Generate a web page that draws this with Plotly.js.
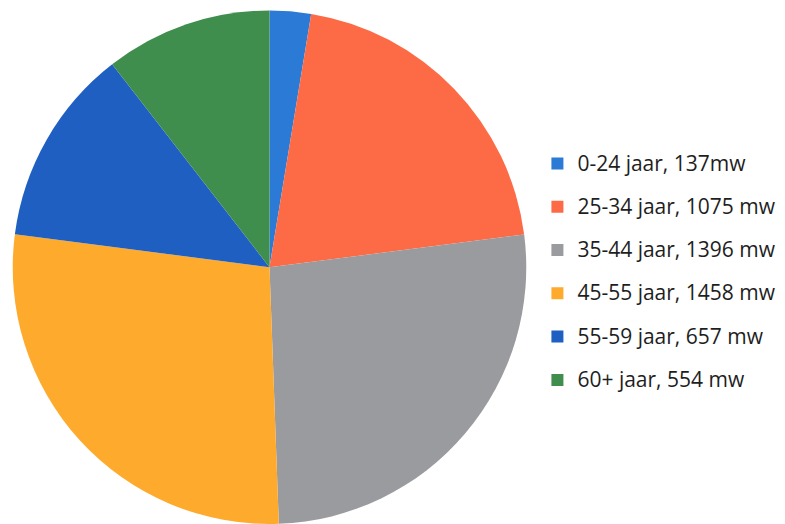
<!DOCTYPE html>
<html>
<head>
<meta charset="utf-8">
<script src="https://cdn.plot.ly/plotly-3.0.1.min.js"></script>
<style>html,body{margin:0;padding:0;background:#fff;}#chart{width:785px;height:524px;}</style>
</head>
<body>
<div id="chart"></div>
<script>
const categories = ["0-24 jaar, 137mw", "25-34 jaar, 1075 mw", "35-44 jaar, 1396 mw", "45-55 jaar, 1458 mw", "55-59 jaar, 657 mw", "60+ jaar, 554 mw"];
const values = [137, 1075, 1396, 1458, 657, 554];
const colors = ["#2b7bd6", "#fd6b46", "#9a9b9f", "#feaa2c", "#1f5fc2", "#3f8e4e"];

const labelsStyled = categories.map(c => '<span style="font-size:21px;baseline-shift:5px">' + c + '</span>');

const data = [{
  type: "pie",
  labels: labelsStyled,
  values: values,
  sort: false,
  direction: "clockwise",
  rotation: 0,
  marker: {colors: colors, line: {width: 0}},
  textinfo: "none",
  hoverinfo: "label+value",
  domain: {x: [12/785, 527/785], y: [0, 0.98]}
}];

const layout = {
  width: 785, height: 524,
  margin: {l: 0, r: 0, t: 0, b: 0},
  paper_bgcolor: "#ffffff",
  showlegend: true,
  legend: {
    x: 0.6846, y: 0.739, xanchor: "left", yanchor: "top",
    font: {family: "'Open Sans', sans-serif", size: 31, color: "#1e1e1e"},
    itemwidth: 30,
    bgcolor: "rgba(0,0,0,0)"
  }
};
Plotly.newPlot("chart", data, layout, {displayModeBar: false, staticPlot: true});
</script>
</body>
</html>
